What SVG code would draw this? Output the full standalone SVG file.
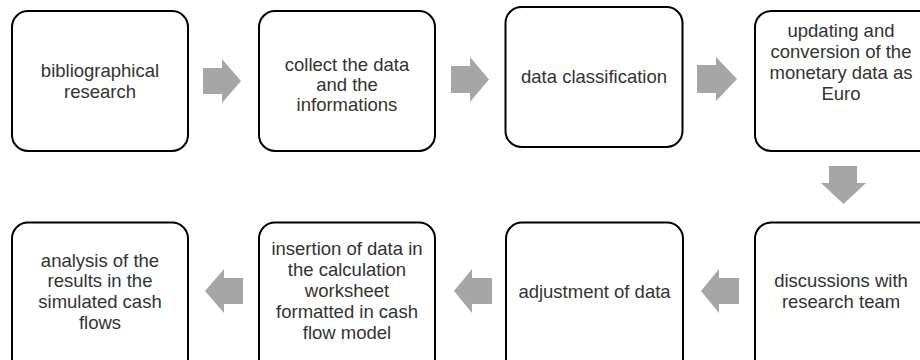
<svg xmlns="http://www.w3.org/2000/svg" width="920" height="360" viewBox="0 0 920 360">
<style>
.box{fill:#fff;stroke:#000;stroke-width:2}
.t{font-family:"Liberation Sans",Arial,sans-serif;font-size:18.5px;fill:#333;text-anchor:middle}
.arr{fill:#a6a6a6}
</style>
<rect width="920" height="360" fill="#fff"/>
<g id="connectors">
<polygon class="arr" points="203,68 222,68 222,59 241,81 222,103 222,94 203,94"/>
<polygon class="arr" points="451,66 470,66 470,57 489,79.5 470,102 470,93 451,93"/>
<polygon class="arr" points="697,65 716,65 716,57 737,79 716,101 716,93 697,93"/>
<polygon class="arr" points="829,166 857,166 857,183 866,183 843.5,204 821,183 829,183"/>
<polygon class="arr" points="739,278 719,278 719,269 701,291 719,313 719,304 739,304"/>
<polygon class="arr" points="492,278 472,278 472,269 454,291 472,313 472,304 492,304"/>
<polygon class="arr" points="243,278 224,278 224,269 205,291 224,313 224,304 243,304"/>
</g>
<g id="n1">
<rect class="box" x="12" y="11" width="176" height="140" rx="16"/>
<text class="t" x="100" y="77">bibliographical</text>
<text class="t" x="100" y="98">research</text>
</g>
<g id="n2">
<rect class="box" x="259" y="11" width="176" height="140" rx="16"/>
<text class="t" x="347" y="71">collect the data</text>
<text class="t" x="347" y="91">and the</text>
<text class="t" x="347" y="111">informations</text>
</g>
<g id="n3">
<rect class="box" x="505.5" y="7" width="177" height="140" rx="16"/>
<text class="t" x="594" y="83">data classification</text>
</g>
<g id="n4">
<path class="box" d="M921 11 H771 A16 16 0 0 0 755 27 V135 A16 16 0 0 0 771 151 H921"/>
<text class="t" x="841" y="37">updating and</text>
<text class="t" x="841" y="58">conversion of the</text>
<text class="t" x="841" y="79">monetary data as</text>
<text class="t" x="841" y="100">Euro</text>
</g>
<g id="n5">
<path class="box" d="M921 222.5 H771 A16 16 0 0 0 755 238.5 V361"/>
<text class="t" x="841" y="287">discussions with</text>
<text class="t" x="841" y="308">research team</text>
</g>
<g id="n6">
<path class="box" d="M506 361 V238.5 A16 16 0 0 1 522 222.5 H667 A16 16 0 0 1 683 238.5 V361"/>
<text class="t" x="594.5" y="298">adjustment of data</text>
</g>
<g id="n7">
<path class="box" d="M259 361 V238.5 A16 16 0 0 1 275 222.5 H419 A16 16 0 0 1 435 238.5 V361"/>
<text class="t" x="347" y="255">insertion of data in</text>
<text class="t" x="347" y="276">the calculation</text>
<text class="t" x="347" y="297">worksheet</text>
<text class="t" x="347" y="318">formatted in cash</text>
<text class="t" x="347" y="339">flow model</text>
</g>
<g id="n8">
<path class="box" d="M12 361 V238.5 A16 16 0 0 1 28 222.5 H172 A16 16 0 0 1 188 238.5 V361"/>
<text class="t" x="100" y="267">analysis of the</text>
<text class="t" x="100" y="287">results in the</text>
<text class="t" x="100" y="308">simulated cash</text>
<text class="t" x="100" y="329">flows</text>
</g>
</svg>
